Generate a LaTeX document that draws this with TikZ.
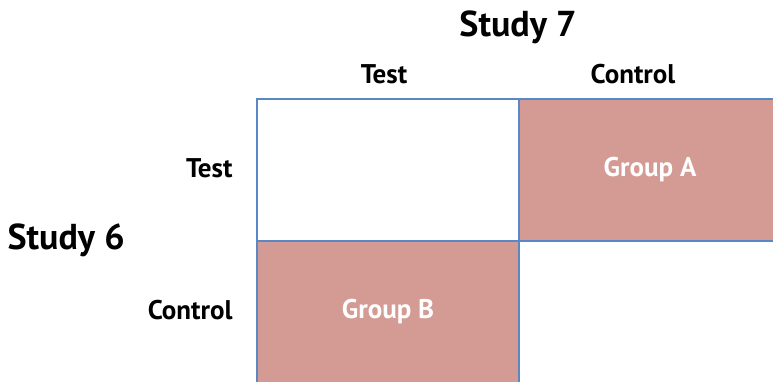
\documentclass[tikz,border=0pt]{standalone}
\usepackage{fontspec}
\setmainfont{PT Sans}
\usepackage{tikz}
\usetikzlibrary{positioning}

\definecolor{cellblue}{HTML}{5B87C5}
\definecolor{grouppink}{HTML}{D49A94}

\begin{document}
\begin{tikzpicture}[
  x=1pt, y=-1pt,
  cell/.style={rectangle, draw=cellblue, line width=1.6pt, minimum width=262pt, minimum height=142pt, inner sep=0pt},
  group/.style={cell, fill=grouppink, text=white, font=\bfseries\fontsize{27}{30}\selectfont},
  head/.style={font=\bfseries\fontsize{27}{30}\selectfont},
  study/.style={font=\bfseries\fontsize{36}{40}\selectfont}
]
\useasboundingbox (0,0) rectangle (773,381);

% the four cells
\node[cell] (tt) at (388,170) {};
\node[cell] (cc) at (650,312) {};
\node[group] (ga) at (650,170) {Group A};
\node[group] (gb) at (388,312) {Group B};

% column heads
\node[study] (s7) at (518,27) {Study 7};
\node[head] (ctest) at (384,74) {Test};
\node[head] (cctrl) at (633,74) {Control};

% row heads
\node[head, anchor=east] (rtest) at (236,168) {Test};
\node[head, anchor=east] (rctrl) at (236,310) {Control};
\node[study, anchor=west] (s6) at (4,240) {Study 6};
\end{tikzpicture}
\end{document}
